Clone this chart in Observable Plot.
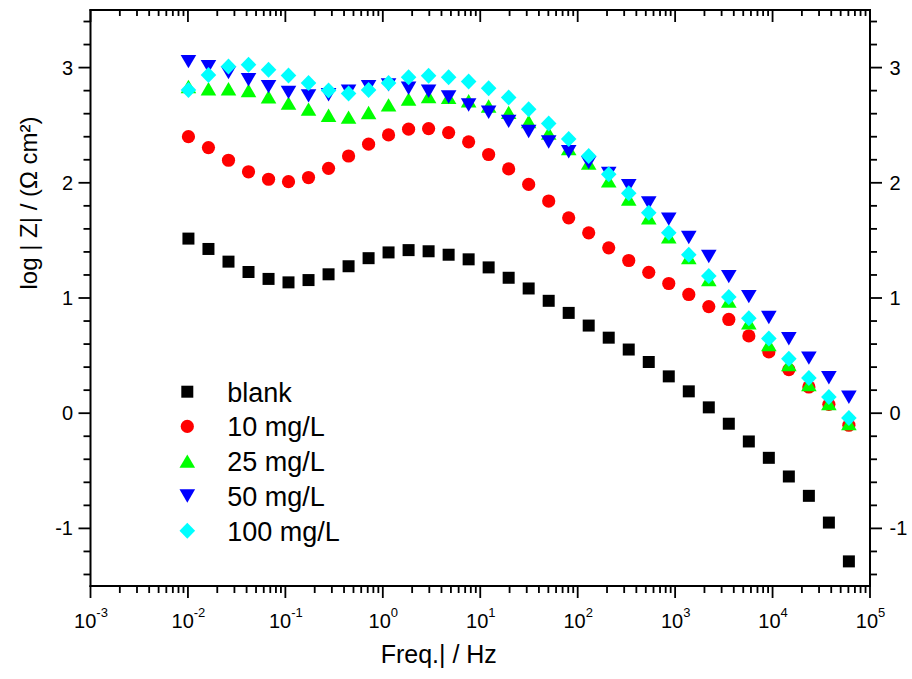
<!DOCTYPE html>
<html><head><meta charset="utf-8">
<script src="https://cdn.jsdelivr.net/npm/d3@7"></script>
<script src="https://cdn.jsdelivr.net/npm/@observablehq/plot@0.6"></script>
<style>
body{margin:0;background:#fff;}
</style></head><body><div id="chart"></div>
<script>
// frequencies (Hz)
const freq = [0.01, 0.01605, 0.02577, 0.04136, 0.0664, 0.1064, 0.1708, 0.2742, 0.44, 0.7061,
  1.132, 1.817, 2.916, 4.681, 7.511, 12.05, 19.34, 31.03, 49.81, 79.91,
  128.2, 205.8, 330.2, 530.0, 850.5, 1365, 2190, 3514, 5640, 9050,
  14520, 23310, 37400, 60000];
const seriesNames = ["blank", "10 mg/L", "25 mg/L", "50 mg/L", "100 mg/L"];
const blank = [1.52, 1.43, 1.32, 1.23, 1.17, 1.14, 1.16, 1.21, 1.28, 1.35, 1.40, 1.42, 1.41, 1.38, 1.34, 1.27, 1.18,
  1.087, 0.98, 0.875, 0.765, 0.66, 0.557, 0.449, 0.324, 0.194, 0.055, -0.087, -0.241, -0.383, -0.545, -0.713, -0.945, -1.282];
const mg10 = [2.405, 2.31, 2.20, 2.10, 2.035, 2.014, 2.05, 2.13, 2.237, 2.34, 2.42, 2.47, 2.475, 2.44, 2.36, 2.25, 2.125,
  1.99, 1.846, 1.70, 1.57, 1.44, 1.33, 1.227, 1.13, 1.035, 0.93, 0.818, 0.675, 0.536, 0.383, 0.232, 0.081, -0.10];
const mg25 = [2.84, 2.82, 2.82, 2.805, 2.75, 2.695, 2.643, 2.59, 2.574, 2.614, 2.68, 2.73, 2.753, 2.745, 2.716, 2.67, 2.615,
  2.535, 2.435, 2.30, 2.174, 2.02, 1.863, 1.70, 1.535, 1.355, 1.163, 0.978, 0.788, 0.60, 0.426, 0.252, 0.087, -0.087];
const mg50 = [3.057, 3.014, 2.962, 2.90, 2.84, 2.79, 2.76, 2.77, 2.80, 2.84, 2.855, 2.826, 2.80, 2.75, 2.68, 2.618, 2.538,
  2.45, 2.36, 2.275, 2.18, 2.087, 1.98, 1.83, 1.69, 1.53, 1.365, 1.191, 1.017, 0.836, 0.652, 0.483, 0.313, 0.144];
const mg100 = [2.81, 2.94, 3.014, 3.03, 2.985, 2.936, 2.87, 2.805, 2.78, 2.81, 2.87, 2.92, 2.933, 2.92, 2.884, 2.826, 2.745,
  2.643, 2.52, 2.385, 2.237, 2.078, 1.913, 1.744, 1.57, 1.38, 1.195, 1.014, 0.828, 0.652, 0.478, 0.31, 0.144, -0.038];
const colors = ["#000000", "#ff0000", "#00ff00", "#0000ff", "#00ffff"];

const xMajorTicks = [0.001, 0.01, 0.1, 1, 10, 100, 1000, 10000, 100000];
const xTickExponents = ["-3", "-2", "-1", "0", "1", "2", "3", "4", "5"];
const yMajorTicks = [-1, 0, 1, 2, 3];
const yTickLabels = ["-1", "0", "1", "2", "3"];
const xTitle = "Freq.| / Hz";
const yTitle = "log | Z| / (Ω cm²)";

const symbols = [
  {draw(c) { c.rect(-6, -6, 12, 12); }},
  {draw(c) { c.moveTo(6.6, 0); c.arc(0, 0, 6.6, 0, 2 * Math.PI); }},
  {draw(c) { c.moveTo(0, -6.8); c.lineTo(7.8, 6.6); c.lineTo(-7.8, 6.6); c.closePath(); }},
  {draw(c) { c.moveTo(-7.8, -6.6); c.lineTo(7.8, -6.6); c.lineTo(0, 6.8); c.closePath(); }},
  {draw(c) { c.moveTo(0, -8); c.lineTo(7.8, 0); c.lineTo(0, 8); c.lineTo(-7.8, 0); c.closePath(); }}
];

const allSeries = [blank, mg10, mg25, mg50, mg100];
const xMinor = [];
for (let e = -3; e < 5; e++) for (let k = 2; k <= 9; k++) xMinor.push(k * Math.pow(10, e));
const yMinor = [];
for (let k = -7; k <= 17; k++) if (k % 5 !== 0) yMinor.push(k / 5);

const font = "Liberation Sans";
const ax = {stroke: "black", fill: "black", label: null, fontFamily: font, fontSize: 20, tickSize: 0};

const dotMarks = allSeries.map((vals, s) =>
  Plot.dot(freq.map((f, i) => ({f, v: vals[i]})), {
    x: "f", y: "v", fill: colors[s], stroke: "none", symbol: symbols[s], r: 4
  })
);

const svg = Plot.plot({
  width: 912, height: 679,
  marginLeft: 90.5, marginRight: 42, marginTop: 10, marginBottom: 93,
  x: {type: "log", domain: [0.001, 100000]},
  y: {domain: [-1.5, 3.5]},
  marks: [
    Plot.axisX({...ax, anchor: "bottom", ticks: xMajorTicks, tickPadding: 27,
      tickFormat: d => "10^" + xTickExponents[xMajorTicks.indexOf(d)]}),
    Plot.axisY({...ax, anchor: "left", ticks: yMajorTicks, tickPadding: 18,
      tickFormat: d => yTickLabels[yMajorTicks.indexOf(d)]}),
    Plot.axisY({...ax, anchor: "right", ticks: yMajorTicks, tickPadding: 19,
      tickFormat: d => yTickLabels[yMajorTicks.indexOf(d)]}),
    ...dotMarks,
    Plot.text([xTitle], {frameAnchor: "bottom", dx: -42, dy: 76, fontSize: 25, fill: "black", fontFamily: font}),
    Plot.text([yTitle], {frameAnchor: "left", dx: -62, dy: -9, rotate: -90, fontSize: 24, fill: "black", fontFamily: font})
  ]
});

const s = d3.select(svg);
const sx = svg.scale("x"), sy = svg.scale("y");
const [xl, xr] = sx.range;
const [yb, yt] = sy.range;
const tw = 1.8;
const tg = s.append("g").attr("fill", "black").attr("stroke", "none");
// frame as filled bars
tg.append("rect").attr("x", xl - 1).attr("y", yt - 1).attr("width", xr - xl + 2).attr("height", 2);
tg.append("rect").attr("x", xl - 1).attr("y", yb - 1).attr("width", xr - xl + 2).attr("height", 2);
tg.append("rect").attr("x", xl - 1).attr("y", yt - 1).attr("width", 2).attr("height", yb - yt + 2);
tg.append("rect").attr("x", xr - 1).attr("y", yt - 1).attr("width", 2).attr("height", yb - yt + 2);
// ticks as thin filled rects
function xt(vals, y0, len) {
  tg.append("g").selectAll("rect").data(vals).join("rect")
    .attr("x", d => sx.apply(d) - tw / 2).attr("width", tw)
    .attr("y", len > 0 ? y0 : y0 + len).attr("height", Math.abs(len));
}
function ytk(vals, x0, len) {
  tg.append("g").selectAll("rect").data(vals).join("rect")
    .attr("y", d => sy.apply(d) - tw / 2).attr("height", tw)
    .attr("x", len > 0 ? x0 : x0 + len).attr("width", Math.abs(len));
}
xt(xMajorTicks, yb, 12); xt(xMinor, yb, 7);
xt(xMajorTicks, yt, 12); xt(xMinor, yt, 6);
ytk(yMajorTicks, xl, -12); ytk(yMinor, xl, -7);
ytk(yMajorTicks, xr, 12); ytk(yMinor, xr, 7);

// superscript exponents on x tick labels
s.selectAll('g[aria-label="x-axis tick label"] text').each(function() {
  const t = d3.select(this);
  const str = t.text();
  if (!str.startsWith("10^")) return;
  const e = str.slice(3);
  t.text(null);
  t.append("tspan").text("10");
  t.append("tspan").attr("dy", "-11").attr("font-size", "13").text(e);
});

// legend
const lg = s.append("g").attr("font-family", font).attr("font-size", 27).attr("text-anchor", "start");
seriesNames.forEach((name, k) => {
  const cy = 391.7 + 34.75 * k;
  lg.append("path").attr("transform", `translate(187.3,${cy})`)
    .attr("d", d3.symbol(symbols[k])()).attr("fill", colors[k]);
  lg.append("text").attr("x", 227.3).attr("y", cy + 10).attr("fill", "black").text(name);
});

document.getElementById("chart").appendChild(svg);
</script></body></html>
